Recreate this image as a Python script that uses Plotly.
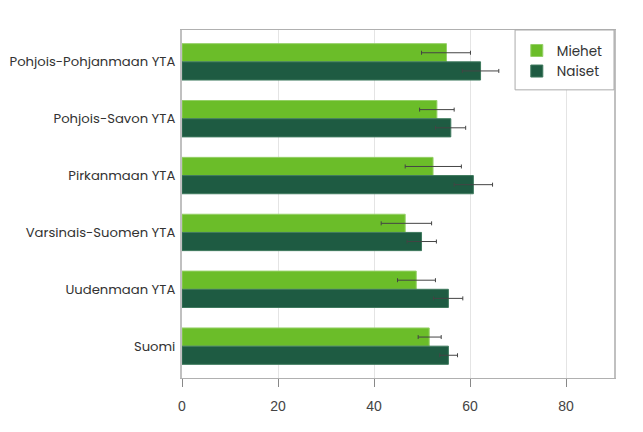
import plotly.graph_objects as go

# alueet ylhäältä alas
regions = ['Pohjois-Pohjanmaan YTA', 'Pohjois-Savon YTA', 'Pirkanmaan YTA',
           'Varsinais-Suomen YTA', 'Uudenmaan YTA', 'Suomi']

men = [55.1, 53.1, 52.3, 46.5, 48.8, 51.5]
men_low = [49.9, 49.5, 46.5, 41.5, 44.9, 49.2]
men_high = [60.1, 56.7, 58.2, 52.0, 52.8, 54.0]

women = [62.2, 56.0, 60.7, 49.9, 55.5, 55.5]
women_low = [58.4, 52.8, 56.7, 46.9, 52.4, 53.7]
women_high = [66.0, 59.1, 64.7, 53.0, 58.5, 57.4]

x_ticks = [0, 20, 40, 60, 80]

label_font = 'Poppins, Open Sans, sans-serif'


def make_trace(name, vals, low, high, fill, edge):
    return go.Bar(
        y=regions,
        x=vals,
        name=name,
        orientation='h',
        marker=dict(color=fill, line=dict(color=edge, width=1)),
        error_x=dict(
            type='data',
            symmetric=False,
            array=[h - v for h, v in zip(high, vals)],
            arrayminus=[v - l for l, v in zip(low, vals)],
            color='#444444',
            thickness=1,
            width=2,
        ),
    )


fig = go.Figure()
fig.add_trace(make_trace('Miehet', men, men_low, men_high, '#6bbd29', '#95d067'))
fig.add_trace(make_trace('Naiset', women, women_low, women_high, '#1e5b42', '#3f7a5e'))

# page body adds 8px, so margins are 8px smaller on left/top
fig.update_layout(
    width=643,
    height=432,
    barmode='group',
    bargap=0.36,
    bargroupgap=0,
    paper_bgcolor='white',
    plot_bgcolor='white',
    margin={'l': 174, 'r': 37, 't': 22, 'b': 62},
    legend=dict(
        x=0.775, xanchor='left', y=0.985, yanchor='top',
        borderwidth=0,
        font=dict(family=label_font, size=13.5, color='#333333'),
        bgcolor='rgba(0,0,0,0)',
    ),
    # legend frame
    shapes=[dict(type='rect', xref='paper', yref='paper',
                 x0=0.771, x1=1, y0=0.828, y1=1,
                 line=dict(color='#aaaaaa', width=1), fillcolor='white',
                 layer='above')],
)

fig.update_xaxes(
    range=[0, 90],
    tickvals=x_ticks,
    showgrid=True,
    gridcolor='#e4e4e4',
    zeroline=False,
    showline=True,
    linecolor='#b0b0b0',
    mirror=True,
    ticks='outside',
    ticklen=8,
    tickcolor='#888888',
    ticklabelstandoff=7,
    automargin=False,
    tickfont=dict(family='Liberation Sans, Arial, sans-serif', size=14, color='#444444'),
)

fig.update_yaxes(
    categoryorder='array',
    categoryarray=regions,
    range=[5.56, -0.56],
    showline=True,
    linecolor='#c0c0c0',
    linewidth=2,
    mirror=True,
    showgrid=False,
    ticks='',
    ticklabelstandoff=2,
    automargin=False,
    tickfont=dict(family=label_font, size=13.2, color='#333333'),
)

fig.write_html("out.html")
